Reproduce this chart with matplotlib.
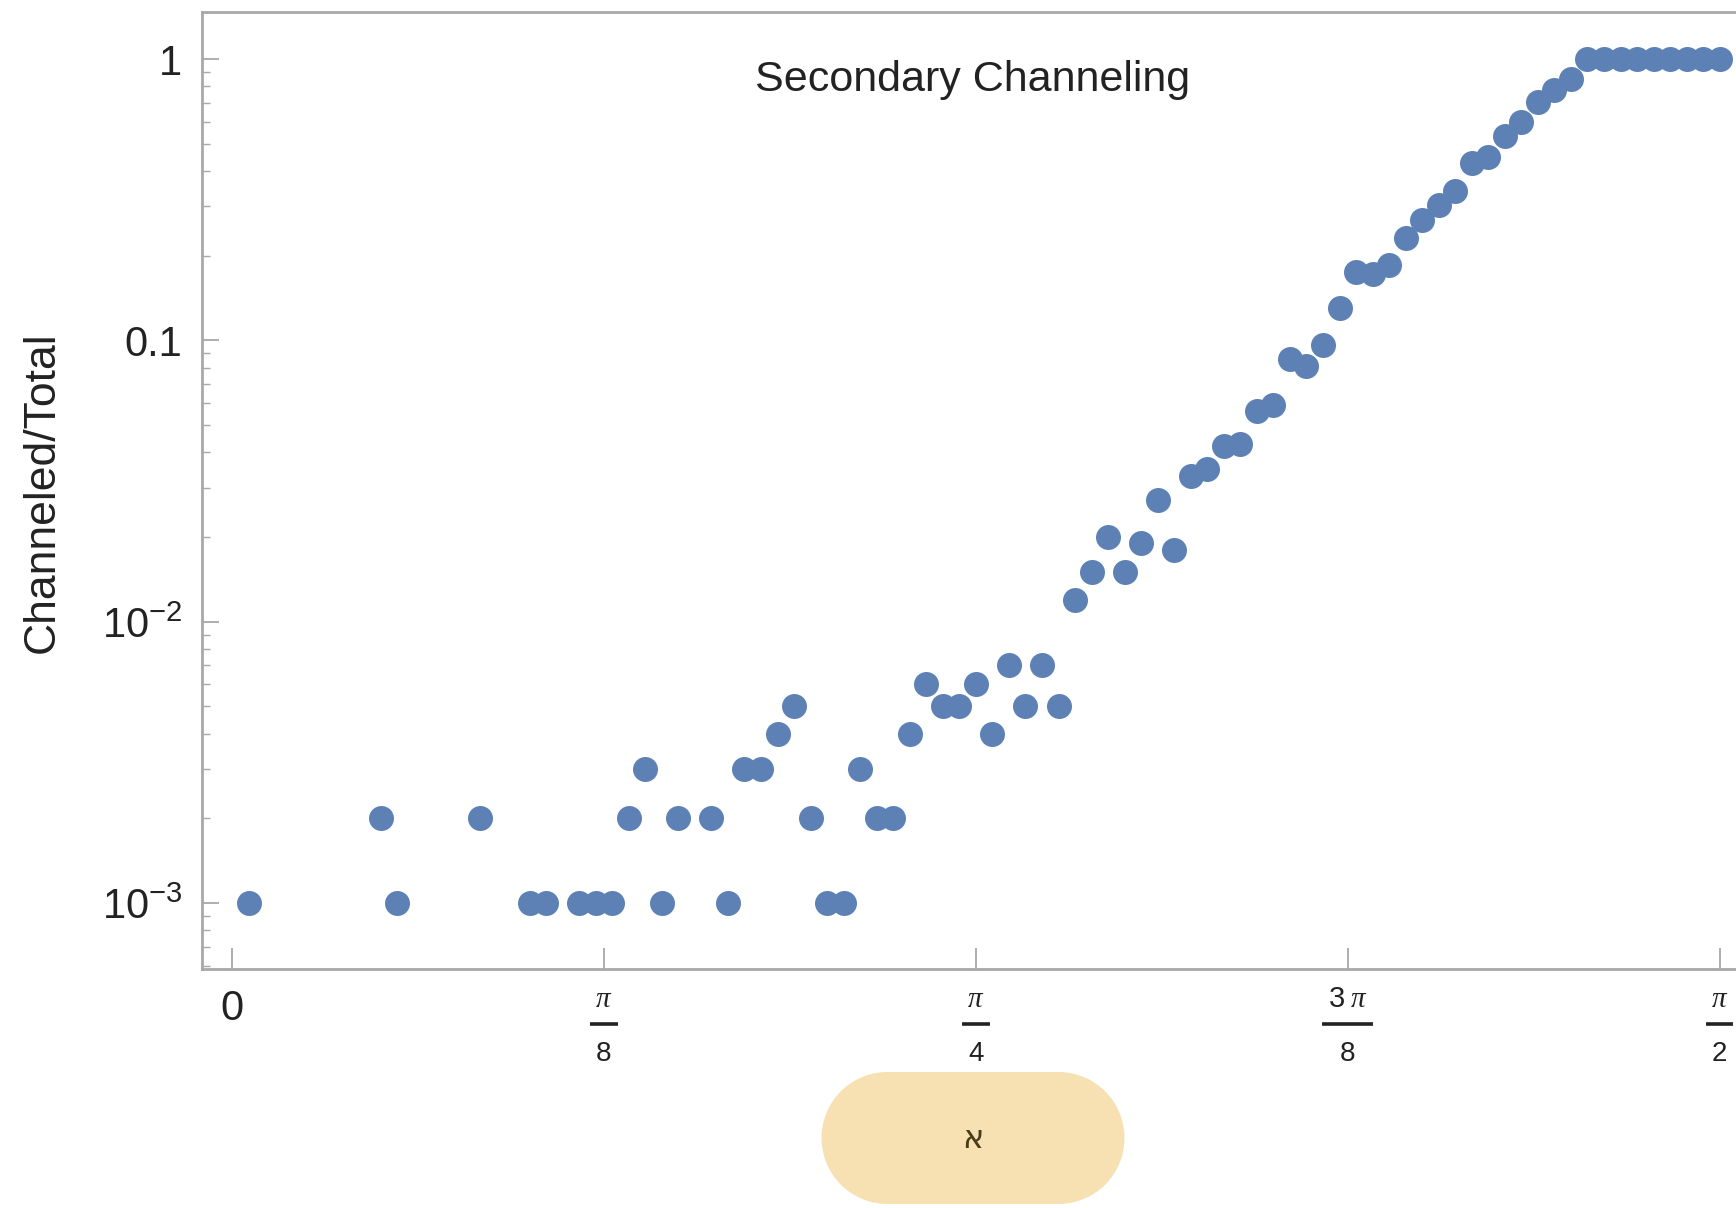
# Secondary channeling fraction vs angle (log scale)
import numpy as np
import matplotlib
matplotlib.use("Agg")
import matplotlib.pyplot as plt
from matplotlib.patches import Rectangle, Circle

plt.rcParams['font.family'] = ['Liberation Sans', 'DejaVu Sans']
plt.rcParams['mathtext.fontset'] = 'custom'
plt.rcParams['mathtext.rm'] = 'Liberation Sans'
plt.rcParams['mathtext.it'] = 'Liberation Serif:italic'
plt.rcParams['mathtext.default'] = 'regular'

# angle in degrees, fraction channeled
angle_deg = [1, 9, 10, 15, 18, 19, 21, 22, 23, 24, 25, 26, 27, 29, 30,
             31, 32, 33, 34, 35, 36, 37, 38, 39, 40, 41, 42, 43, 44, 45,
             46, 47, 48, 49, 50, 51, 52, 53, 54, 55, 56, 57, 58, 59, 60,
             61, 62, 63, 64, 65, 66, 67, 68, 69, 70, 71, 72, 73, 74, 75,
             76, 77, 78, 79, 80, 81, 82, 83, 84, 85, 86, 87, 88, 89, 90]
fraction = [0.001, 0.002, 0.001, 0.002, 0.001, 0.001, 0.001, 0.001, 0.001,
            0.002, 0.003, 0.001, 0.002, 0.002, 0.001,
            0.003, 0.003, 0.004, 0.005, 0.002, 0.001, 0.001, 0.003, 0.002,
            0.002, 0.004, 0.006, 0.005, 0.005, 0.006,
            0.004, 0.007, 0.005, 0.007, 0.005, 0.012, 0.015, 0.020, 0.015,
            0.019, 0.027, 0.018, 0.033, 0.035, 0.042,
            0.043, 0.056, 0.059, 0.086, 0.081, 0.096, 0.130, 0.175, 0.172,
            0.186, 0.232, 0.267, 0.303, 0.341, 0.428,
            0.448, 0.532, 0.598, 0.707, 0.776, 0.853, 1.0, 1.0, 1.0,
            1.0, 1.0, 1.0, 1.0, 1.0, 1.0]

x_ticks = [0, np.pi / 8, np.pi / 4, 3 * np.pi / 8, np.pi / 2]
x_numer = ['', r'$\mathit{\pi}$', r'$\mathit{\pi}$', r'3$\;\mathit{\pi}$', r'$\mathit{\pi}$']
x_denom = ['', '8', '4', '8', '2']
y_ticks = [1e-3, 1e-2, 0.1, 1]
y_labels = ['$10^{-3}$', '$10^{-2}$', '0.1', '1']

grey = '#a8a8a8'
text_col = '#222222'

fig = plt.figure(figsize=(17.36, 12.08), dpi=100)
ax = fig.add_axes([0.1162, 0.1978, 0.8838, 0.7922])

ax.plot(np.radians(angle_deg), fraction, 'o', color='#5E81B5',
        markersize=18, markeredgewidth=0)

ax.set_yscale('log')
ax.set_ylim(5.83e-4, 1.47)
ax.set_xlim(-0.032, 1.588)

ax.set_yticks(y_ticks)
ax.set_yticklabels(y_labels)
ax.set_xticks(x_ticks)
ax.set_xticklabels(['0', '', '', '', ''])
ax.xaxis.set_minor_locator(matplotlib.ticker.NullLocator())

ax.tick_params(axis='y', which='major', direction='in', length=12, width=1.3,
               color=grey, labelsize=30, pad=14, labelcolor=text_col)
ax.tick_params(axis='y', which='minor', direction='in', length=6, width=1.0,
               color=grey)
ax.tick_params(axis='x', which='major', direction='in', length=15, width=1.3,
               color=grey, labelsize=30, pad=14, labelcolor=text_col)

# fraction tick labels drawn as numerator / bar / denominator
xt = ax.get_xaxis_transform()
for xv, num, den in zip(x_ticks, x_numer, x_denom):
    if not num:
        continue
    half = 0.027 if num.startswith('3') else 0.0145
    ax.text(xv, -0.0308, num, transform=xt, ha='center', va='center',
            fontsize=21, color=text_col, clip_on=False)
    ax.plot([xv - half, xv + half], [-0.0575, -0.0575], transform=xt,
            color=text_col, lw=2.6, clip_on=False, solid_capstyle='butt')
    ax.text(xv, -0.0888, den, transform=xt, ha='center', va='center',
            fontsize=20, color=text_col, clip_on=False)

for side in ['left', 'bottom', 'top']:
    ax.spines[side].set_color(grey)
    ax.spines[side].set_linewidth(2)
ax.spines['right'].set_visible(False)

ax.text(0.5027, 0.929, 'Secondary Channeling', transform=ax.transAxes,
        ha='center', va='center', fontsize=31, color=text_col)

ax.set_ylabel('Channeled/Total', fontsize=32, color=text_col)
ax.yaxis.set_label_coords(-0.0904, 0.498)

# axis label bubble (stadium shape) under the x axis
cx, cy, w, h = 9.73, 0.70, 3.03, 1.32
r = h / 2
bubble_col = '#F7E1B2'
fig.patches.append(Rectangle((cx - w / 2 + r, cy - r), w - 2 * r, h,
                             transform=fig.dpi_scale_trans, facecolor=bubble_col,
                             edgecolor='none'))
for ex in [cx - w / 2 + r, cx + w / 2 - r]:
    fig.patches.append(Circle((ex, cy), r, transform=fig.dpi_scale_trans,
                              facecolor=bubble_col, edgecolor='none'))
fig.text(cx / 17.36, (cy - 0.02) / 12.08, 'א', ha='center', va='center',
         fontsize=23, color='#4a3b1a', family=['DejaVu Sans'])

fig.savefig('out.png', dpi=100)
